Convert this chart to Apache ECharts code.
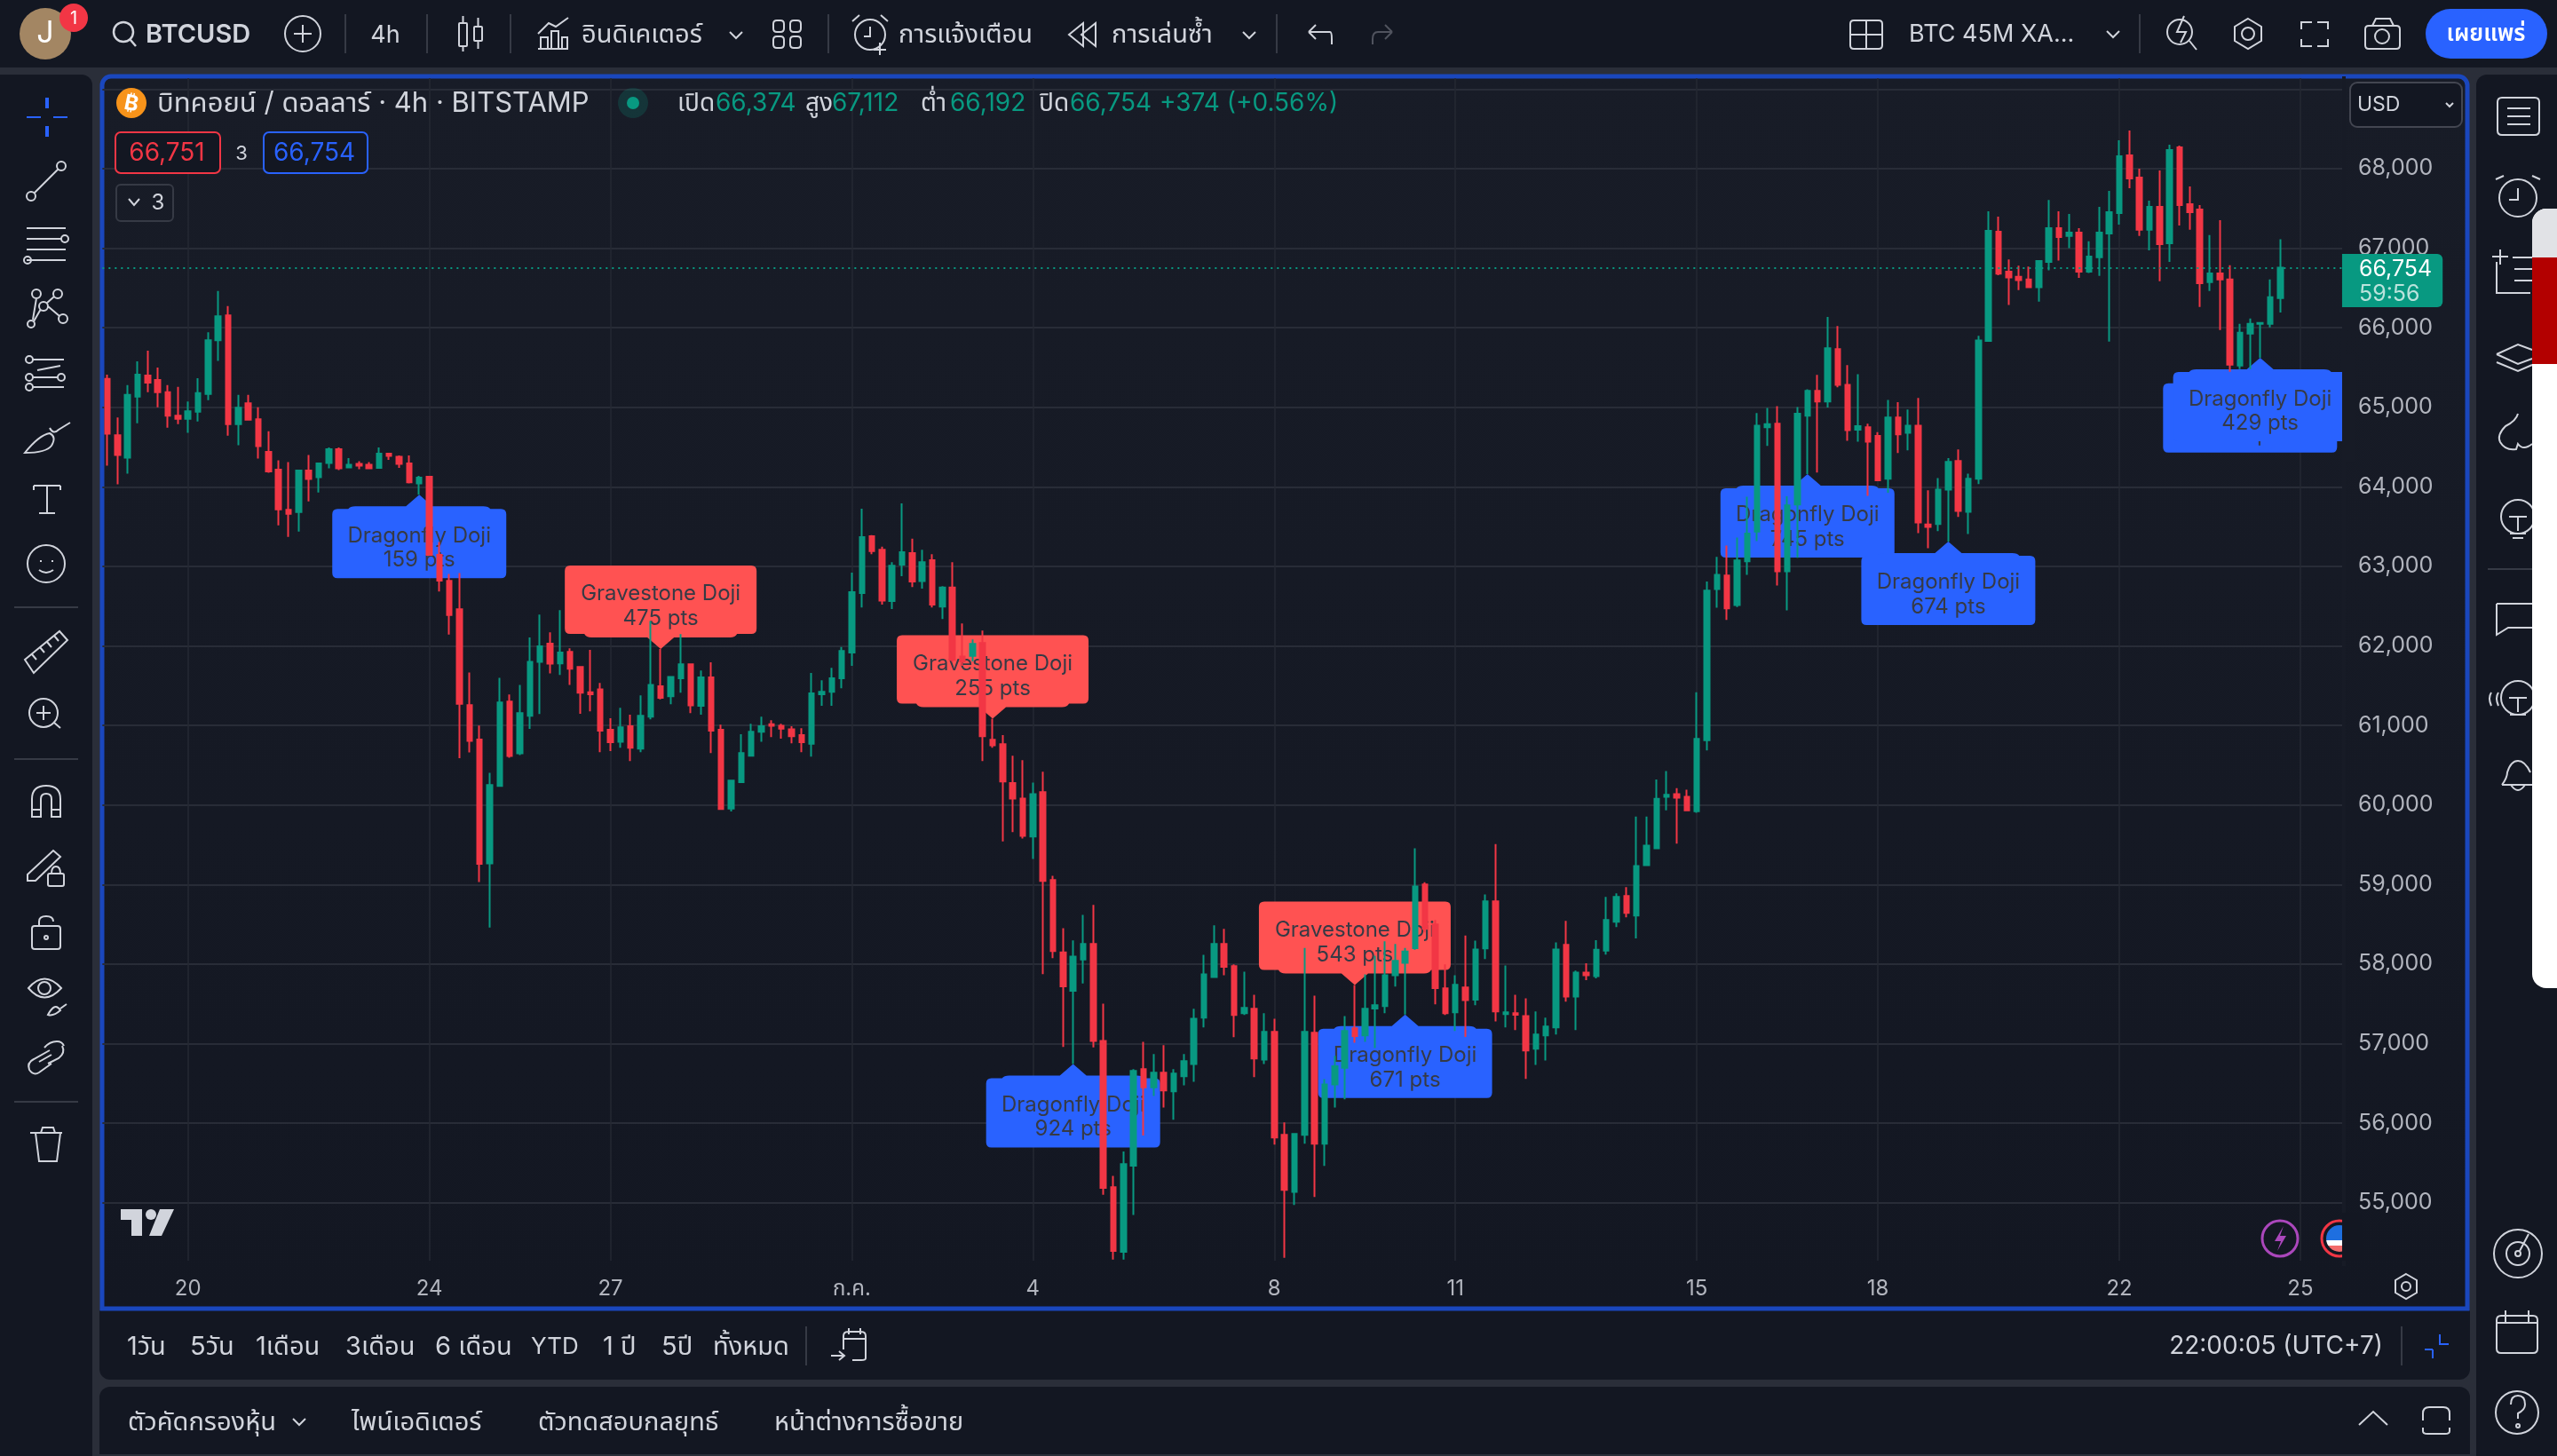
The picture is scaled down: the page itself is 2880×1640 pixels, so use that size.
<!DOCTYPE html>
<html><head><meta charset="utf-8">
<style>html,body{margin:0;padding:0;background:#2a2e39}#c{width:2880px;height:1640px}</style>
<script src="https://cdn.jsdelivr.net/npm/echarts@6/dist/echarts.min.js"></script>
</head><body><div id="c"></div>
<script>
const openValues=[65356,64650,64367,65133,65400,65344,65189,64894,64856,64944,65167,65844,66156,64789,65050,64850,64439,64217,63711,63683,64206,64122,64300,64472,64244,64289,64278,64239,64417,64378,64294,64044,64128,63145,62817,62461,61256,60822,59267,60239,61300,60650,61122,61800,62028,61780,61925,61737,61417,61454,60947,60796,60990,60708,61110,61492,61367,61592,61768,61248,61605,60947,59956,60288,60621,60922,61016,60997,60953,60878,60771,61392,61423,61592,61918,62665,63379,63210,62564,63022,63166,62815,63078,62495,62734,61868,61875,62038,60821,60765,60276,60081,59605,60163,59057,58148,57665,58057,58253,57035,55195,54384,55467,56681,56451,56636,56402,56590,56745,57326,57839,58253,57974,57382,57439,56801,57148,55855,55138,55855,57137,55742,56488,56696,57194,57103,57443,57473,57861,58016,58201,59000,58498,57695,57393,57707,57552,58197,58789,57371,57382,57348,56937,57103,57205,58242,57593,57895,57850,58170,58533,58855,58611,59244,59456,60103,60138,60103,59923,60816,62715,62884,62515,63064,63438,64749,64794,62939,63777,64893,65207,65073,65731,65282,64719,64749,64639,64101,64873,64679,64769,63527,63532,63966,64325,63687,64101,65835,67208,66706,66640,66606,66509,66829,67253,67153,67197,66706,66885,67186,67442,68167,67888,67231,67520,67063,68268,67554,67487,66573,66684,66606,65524,65926,66049,66049,66374];
const closeValues=[64667,64400,65156,65411,65311,65189,64894,64856,64950,65178,65844,66144,64789,64994,64844,64511,64194,63717,63661,64206,64100,64294,64472,64233,64278,64267,64233,64417,64389,64289,64056,64117,63145,62822,62389,61272,60806,59261,60250,61289,60617,61156,61800,61994,61778,61918,61712,61411,61392,60934,60790,60978,60721,61122,61511,61348,61611,61768,61254,61605,60934,59950,60307,60652,60922,60990,60997,60959,60865,60790,61404,61423,61592,61937,62677,63367,63191,62571,63009,63179,62809,63053,62520,62734,61824,61806,62025,60865,60752,60295,60081,59611,60138,59047,58163,57722,58095,58253,57035,55187,54396,55485,56658,56451,56636,56413,56624,56779,57314,57872,58253,57967,57360,57450,56813,57148,55821,55161,55866,57148,55742,56488,56715,57160,57096,57439,57484,57861,58042,58159,58977,58442,57699,57382,57740,57548,58185,58789,57405,57394,57363,56915,57115,57216,58185,57593,57895,57860,58180,58555,58844,58644,59233,59489,60078,60128,60093,59933,60831,62695,62894,62471,63074,63413,64769,64789,62939,63767,64918,65207,65073,65741,65282,64714,64764,64569,64081,64873,64659,64769,63552,63497,63966,64315,63697,64101,65840,67219,66680,66632,66599,66509,66840,67253,67141,67197,66706,66896,67197,67454,68156,67877,67231,67520,67052,68234,67543,67454,66561,66684,66606,65536,65937,66049,66060,66383,66754];
const lowValues=[64267,64033,64167,64800,65189,65000,64744,64789,64678,64822,65089,65583,64644,64522,64839,64356,64178,63517,63372,63439,63817,63928,64233,64211,64239,64222,64228,64239,64339,64239,64044,63900,63145,62683,62144,60589,60661,59033,58461,60228,60594,60628,60956,61144,61656,61636,61511,61147,61179,60664,60677,60721,60552,60664,61078,61329,61266,61411,61154,61135,60652,59943,59918,60288,60608,60796,60853,60834,60777,60664,60608,61248,61248,61467,61749,62483,63154,62520,62464,62878,62740,62721,62483,62339,61800,61750,61806,60552,60721,59542,59661,59580,59323,57874,58076,56960,56745,57756,56952,55101,54286,54286,54848,55847,56341,56198,56044,56477,56522,57205,57839,57861,57081,57360,56579,56745,55731,54309,54973,55742,55074,55463,56198,56300,57013,57024,56945,57382,57718,57367,58180,58400,57495,57360,57160,57084,57484,58065,57280,57205,57171,56556,56734,56790,57114,57529,57171,57800,57820,58120,58467,58589,58322,59244,59444,59933,59514,59923,59903,60686,62481,62326,62490,62894,63318,64514,62760,62446,63109,64161,64180,64998,65252,64579,64569,63886,64070,63926,64425,64460,63418,63228,63443,63313,63622,63408,64036,65830,66660,66286,66472,66506,66327,66721,66844,67000,66628,66688,66651,65826,67297,67755,67153,66974,66584,66829,67286,67231,66260,66461,65970,65446,65480,65480,65621,66004,66192];
const highValues=[65411,64872,65278,65578,65711,65500,65278,65256,65072,65367,65944,66461,66272,65156,65156,65000,64700,64333,64311,64217,64400,64306,64494,64494,64361,64322,64311,64494,64417,64394,64394,64139,64128,63306,62906,62917,61667,61000,60406,61600,61389,61511,62106,62394,62172,62451,61969,61743,61950,61536,61091,61222,61135,61379,62313,61962,61611,62150,61768,61692,61793,61009,60313,60890,61022,61110,61066,61022,60990,60965,61661,61567,61724,61987,62922,63724,63392,63248,63053,63793,63348,63210,63154,62752,63053,62282,62082,62194,61085,60878,60621,60564,60282,60420,59109,58453,58299,58619,58744,57503,55338,55644,56681,57024,56869,56982,56681,56869,57439,58118,58487,58442,57997,57906,57616,57382,57314,56010,55874,58204,57603,56553,56847,57348,57737,57872,58106,58287,58253,58204,59456,59030,58555,57997,57861,58359,58295,58876,59509,57982,57616,57571,57405,57326,58272,58544,57918,58010,58300,58844,58889,58967,59856,59856,60322,60427,60212,60192,61419,62810,63119,63263,63363,63876,64928,64993,65013,63881,65003,65227,65407,66135,66020,65531,65417,64794,64689,65093,65063,64973,65118,63956,64111,64360,64470,64166,65900,67464,67398,66859,66781,66770,66840,67606,67465,67431,67253,67086,67520,67721,68357,68480,68000,67599,67978,68301,68290,67777,67543,67164,67353,66785,66049,66115,66060,66606,67112];
const tickIndex=[8,32,50,74,92,116,134,158,176,200,218];
const tickLabels=['20','24','27','ก.ค.','4','8','11','15','18','22','25'];
const priceTicks=[55000,56000,57000,58000,59000,60000,61000,62000,63000,64000,65000,66000,67000,68000,69000];
const priceLabels=[55000,56000,57000,58000,59000,60000,61000,62000,63000,64000,65000,66000,67000,68000];
const dragonflyIndex=[31,96,129,169,183,213];
const dragonflyPts=['159 pts','924 pts','671 pts','745 pts','674 pts','476 pts'];
const frontIndex=[214];
const frontPts=['429 pts'];
const gravestoneIndex=[55,88,124];
const gravestonePts=['475 pts','255 pts','543 pts'];
const lastPrice=66754, countdown='59:56';
const categories=Array.from({length:223},(_,k)=>String(k));

const FONT="Inter, 'Noto Sans Thai', 'Noto Sans', 'DejaVu Sans', sans-serif";
const S='#d1d4dc', GREEN='#089981', RED='#f23645', BLUE='#2962ff', PANEL='#131722';
const candles=openValues.map((o,k)=>[o,closeValues[k],lowValues[k],highValues[k]]);
const fmt=v=>v.toLocaleString('en-US');

const g=[]; let shapeNo=0;
function R(x,y,w,h,fill,r,z,stroke,lw){g.push({type:'rect',silent:true,z:z==null?-1:z,shape:{x,y,width:w,height:h,r:r||0},style:{fill:fill||'none',stroke:stroke||null,lineWidth:lw||0}});}
function P(d,o){o=o||{};const name='icon'+(shapeNo++);
  echarts.graphic.registerShape(name,echarts.graphic.extendPath(d,{}));
  g.push({type:name,silent:true,z:o.z==null?50:o.z,style:{stroke:o.fill&&!o.stroke?null:(o.stroke||S),fill:o.fill||'none',lineWidth:o.lw||2}});}
function Ci(x,y,r){return `M${x-r} ${y}A${r} ${r} 0 1 1 ${x+r} ${y}A${r} ${r} 0 1 1 ${x-r} ${y}Z`;}
function Rr(x,y,w,h,r){return `M${x+r} ${y}L${x+w-r} ${y}Q${x+w} ${y} ${x+w} ${y+r}L${x+w} ${y+h-r}Q${x+w} ${y+h} ${x+w-r} ${y+h}L${x+r} ${y+h}Q${x} ${y+h} ${x} ${y+h-r}L${x} ${y+r}Q${x} ${y} ${x+r} ${y}Z`;}
function T(x,y,text,size,fill,align,weight,rot){g.push({type:'text',silent:true,z:60,x,y,rotation:rot||0,style:{text,fill:fill||S,fontSize:size||28,fontFamily:FONT,fontWeight:weight||400,textAlign:align||'left',textVerticalAlign:'middle'}});}

/* page panels */
R(0,0,2880,76,PANEL);
R(0,84,104,1556,PANEL,[0,12,0,0]);
R(2789,84,91,1556,PANEL,[12,0,0,0]);
R(112,1476,2670,78,PANEL,[0,0,12,12]);
R(112,1562,2670,76,PANEL,[12,12,0,0]);
g.push({type:'rect',silent:true,z:-1,shape:{x:115,y:86,width:2664,height:1388,r:[10,10,0,0]},style:{fill:{type:'linear',x:0,y:0,x2:0,y2:1,colorStops:[{offset:0,color:'#181c27'},{offset:1,color:'#131722'}]},stroke:'#1a47bd',lineWidth:5}});

/* masks for the price-scale edge */
R(2638,400,14,120,'#171b26',0,2.5);
R(2638,1366,22,54,'#131722',0,52);
R(2638,86,4,1340,'#171b26',0,2.5);

/* white side sheet */
g.push({type:'rect',silent:true,z:70,shape:{x:2852,y:235,width:28,height:878,r:[16,0,0,16]},style:{fill:'#ffffff'}});
g.push({type:'rect',silent:true,z:71,shape:{x:2852,y:235,width:28,height:56,r:[16,0,0,0]},style:{fill:'#e1e2e6'}});
R(2852,290,28,120,'#b30000',0,71);

/* top bar */
g.push({type:'circle',silent:true,z:50,shape:{cx:51,cy:38,r:29},style:{fill:'#a38663'}});
T(51,38,'J',34,'#fff','center');
g.push({type:'circle',silent:true,z:51,shape:{cx:83,cy:20,r:16},style:{fill:RED}});
T(83,21,'1',20,'#fff','center');
P(Ci(139,36,11)+'M147 45L153 52',{lw:2.5});
T(164,39,'BTCUSD',29,S,'left',600);
P(Ci(341,38,20)+'M341 28L341 48M331 38L351 38');
P('M389 16L389 60M481 16L481 60M575 16L575 60M933 16L933 60M1438 16L1438 60M2410 16L2410 60',{stroke:'#363a45'});
T(434,40,'4h',27,S,'center');
P(Rr(517,26,9,26,1)+'M521.5 18L521.5 26M521.5 52L521.5 58'+Rr(534,30,9,16,1)+'M538.5 20L538.5 30M538.5 46L538.5 55');
P('M606 55L640 55M609 55L609 42L617 42L617 55M621 55L621 35L629 35L629 55M633 55L633 42L639 42L639 55M606 38L618 26L626 30L640 20');
T(655,39,'อินดิเคเตอร์',29,S);
P('M822 36L829 43L836 36');
P(Rr(871,23,12,13,4)+Rr(890,23,12,13,4)+Rr(871,41,12,13,4)+Rr(890,41,12,13,4));
P(Ci(980,39,17)+'M960 24L968 17M1000 24L992 17M980 30L980 41L973 41M984 56L998 56M991 48L991 62',{});
T(1012,39,'การแจ้งเตือน',29,S);
P('M1220 26L1204 39L1220 52ZM1234 26L1218 39L1234 52Z');
T(1252,39,'การเล่นซ้ำ',29,S);
P('M1400 36L1407 43L1414 36');
P('M1474 36L1482 28M1474 36L1482 44M1474 36L1498 36Q1500 36 1500 44L1500 50',{});
P('M1568 36L1560 28M1568 36L1560 44M1568 36L1552 36Q1546 36 1546 44L1546 50',{stroke:'#50535e'});
P(Rr(2084,23,36,32,4)+'M2084 39L2120 39M2102 23L2102 55');
T(2150,39,'BTC 45M XA...',27,S);
P('M2373 35L2380 42L2387 35');
P(Ci(2455,36,14)+'M2466 46L2474 56M2460 18L2452 36L2462 36L2456 48',{});
P('M2532 21L2547 30L2547 46L2532 55L2517 46L2517 30Z'+Ci(2532,38,7));
P('M2592 33L2592 25L2604 25M2610 25L2622 25L2622 33M2622 44L2622 52L2610 52M2604 52L2592 52L2592 44');
P(Rr(2664,29,39,26,4)+Ci(2683,41,8)+'M2672 29L2676 21L2692 21L2696 29');
R(2732,10,137,56,BLUE,28,50);
T(2800,38,'เผยแพร่',26,'#fff','center',600);

/* chart legend */
g.push({type:'circle',silent:true,z:50,shape:{cx:148,cy:116,r:17},style:{fill:'#f7931a'}});
T(148,117,'₿',24,'#fff','center',700,-0.2);
T(177,117,'บิทคอยน์ / ดอลลาร์ · 4h · BITSTAMP',31,S);
g.push({type:'circle',silent:true,z:50,shape:{cx:713,cy:116,r:17},style:{fill:'rgba(8,153,129,0.2)'}});
g.push({type:'circle',silent:true,z:51,shape:{cx:713,cy:116,r:7},style:{fill:GREEN}});
T(763,117,'เปิด'); T(806,117,'66,374',28,GREEN);
T(907,117,'สูง'); T(937,117,'67,112',28,GREEN);
T(1037,117,'ต่ำ'); T(1070,117,'66,192',28,GREEN);
T(1170,117,'ปิด'); T(1205,117,'66,754',28,GREEN);
T(1306,117,'+374 (+0.56%)',28,GREEN);
R(130,149,118,46,'#131722',6,50,RED,2); T(188,173,'66,751',28,RED,'center');
T(272,173,'3',22,S,'center');
R(297,149,117,46,'#131722',6,50,BLUE,2); T(354,173,'66,754',28,BLUE,'center');
R(131,208,64,41,'none',5,50,'#363a45',2);
P('M145 224L151 231L157 224'); T(178,229,'3',24,S,'center');
R(2647,93,126,50,'#131722',8,50,'#434651',2);
T(2655,118,'USD',23,S); P('M2755 116L2759 120L2763 116');

/* chart corner items */
P('M136 1362L160 1362L160 1392L148 1392L148 1374L136 1374Z',{fill:S,z:50});
g.push({type:'circle',silent:true,z:50,shape:{cx:170,cy:1368,r:6},style:{fill:S}});
P('M180 1362L196 1362L182 1392L168 1392Z',{fill:S,z:50});
P(Ci(2568,1395,20),{stroke:'#ab47bc',lw:3});
P('M2572 1381L2562 1398L2569 1398L2565 1409L2575 1392L2568 1392Z',{fill:'#ab47bc',z:50});
P(Ci(2635,1395,20),{stroke:RED,lw:3,z:50});
g.push({type:'circle',silent:true,z:50,shape:{cx:2635,cy:1395,r:15},style:{fill:{type:'linear',x:0,y:0,x2:0,y2:1,colorStops:[{offset:0,color:'#1e6fe0'},{offset:0.58,color:'#1e6fe0'},{offset:0.58,color:'#fff'},{offset:0.75,color:'#fff'},{offset:0.75,color:'#f26a6a'},{offset:1,color:'#f26a6a'}]}}});
P('M2710 1435L2722 1442L2722 1456L2710 1463L2698 1456L2698 1442Z'+Ci(2710,1449,5));

/* range bar */
[[143,'1วัน'],[214,'5วัน'],[288,'1เดือน'],[389,'3เดือน'],[490,'6 เดือน'],[598,'YTD'],[679,'1 ปี'],[745,'5ปี'],[803,'ทั้งหมด']].forEach(a=>T(a[0],1517,a[1],a[1]==='YTD'?26:29));
P('M908 1494L908 1538',{stroke:'#363a45'});
P('M950 1520L950 1505Q950 1500 955 1500L970 1500Q975 1500 975 1505L975 1530Q975 1532 970 1532L960 1532M950 1508L975 1508M956 1496L956 1503M969 1496L969 1503M936 1527L950 1527M945 1522L951 1527L945 1532');
T(2684,1517,'22:00:05 (UTC+7)',28,S,'right');
P('M2705 1494L2705 1538',{stroke:'#363a45'});
P('M2748 1503L2748 1514L2758 1514M2740 1520L2731 1520M2740 1520L2740 1530',{stroke:BLUE});
[[144,'ตัวคัดกรองหุ้น'],[396,'ไพน์เอดิเตอร์'],[606,'ตัวทดสอบกลยุทธ์'],[872,'หน้าต่างการซื้อขาย']].forEach(a=>T(a[0],1602,a[1],29));
P('M330 1598L337 1605L344 1598');
P('M2657 1605L2673 1590L2689 1605');
P('M2729 1600L2729 1592Q2729 1585 2736 1585L2752 1585Q2759 1585 2759 1592L2759 1600M2729 1608L2729 1612Q2729 1615 2734 1615L2754 1615Q2759 1615 2759 1612L2759 1608');

/* left tools */
P('M30 132L46 132M60 132L76 132',{stroke:BLUE});
P('M53 110L53 122M53 142L53 154',{stroke:BLUE,lw:4});
P(Ci(35,221,5)+Ci(69,187,5)+'M39 217L65 191');
P('M30 257L74 257M30 269L70 269M30 281L74 281M30 293L74 293'+Ci(73,269,4)+Ci(31,293,4));
P(Ci(41,331,5)+Ci(65,331,5)+Ci(49,345,5)+Ci(71,359,5)+Ci(35,365,4)+'M38 362L46 348M41 336L37 360M54 345L67 356M52 342L61 334');
P(Ci(33,405,4)+Ci(33,425,4)+Ci(33,436,4)+Ci(69,425,4)+'M37 405L72 405M37 425L65 425M37 436L72 436M42 417L68 412',{});
P('M28 510Q44 490 56 488Q64 492 58 502Q52 510 28 510ZM56 482Q60 490 66 484L79 476');
P('M38 547L68 547M38 547L38 552M68 547L68 552M53 547L53 578M44 578L62 578');
P(Ci(52,635,21)+'M46 631L46 633M59 631L59 633M44 642Q52 648 60 642');
P('M16 684L88 684M16 855L88 855M16 1241L88 1241',{stroke:'#363a45'});
P('M28 743L67 711L76 721L38 758ZM36 737L41 743M45 729L50 735M53 723L58 729M61 716L66 722');
P(Ci(49,803,16)+'M41 803L57 803M49 795L49 811M61 814L68 820');
P('M36 920L36 900Q36 885 52 885Q68 885 68 900L68 920L58 920L58 900Q58 894 52 894Q46 894 46 900L46 920ZM36 912L46 912M58 912L68 912');
P('M31 985L60 958L68 965L40 992L31 992Z'+Rr(54,984,18,14,2)+'M58 984Q58 976 63 976Q68 976 68 984');
P(Rr(36,1043,32,26,3)+'M44 1043L44 1038Q44 1032 52 1032Q60 1032 60 1038'+Ci(52,1056,2));
P('M32 1113Q50 1092 69 1113Q50 1134 32 1113Z'+Ci(50,1113,7)+'M54 1143Q62 1128 68 1138Q60 1145 54 1143ZM68 1136L75 1131');
P('M33 1205Q30 1197 38 1193L56 1183M58 1198L44 1208Q38 1212 33 1205M44 1196L58 1188M70 1178Q74 1186 66 1192L54 1198M50 1180Q56 1173 64 1173Q70 1173 72 1178');
P('M34 1276L70 1276M40 1276L44 1308L64 1308L68 1276M46 1276L48 1270L60 1270L62 1276');

/* right tools */
P(Rr(2813,110,47,42,5)+'M2824 122L2850 122M2824 131L2850 131M2824 140L2850 140');
P(Ci(2836,223,21)+'M2811 202L2820 198M2861 202L2852 198M2836 212L2836 225L2826 225');
P('M2807 289L2825 289M2816 281L2816 298M2812 295L2812 330L2850 330M2830 290L2852 290M2832 303L2852 303M2832 316L2852 316');
P('M2812 399L2836 388L2852 394M2812 399L2836 410L2852 404M2812 408L2836 418L2852 411');
P('M2836 466Q2834 474 2822 480Q2812 490 2816 498Q2822 508 2834 506L2836 500Q2842 508 2852 500');
P(Ci(2836,582,19)+'M2826 582L2846 582M2836 582L2836 598M2827 601L2845 601M2830 606L2842 606');
P('M2802 641L2852 641',{stroke:'#363a45'});
P('M2812 680L2852 680M2812 680L2812 715L2825 707L2852 707');
P('M2806 780Q2802 786 2806 795M2814 780Q2810 786 2814 795'+Ci(2836,786,19)+'M2826 786L2846 786M2836 786L2836 802M2827 805L2845 805');
P('M2818 884L2852 884M2818 884Q2824 876 2824 870Q2828 857 2836 857Q2844 857 2850 870M2828 884Q2836 896 2844 884');
P(Ci(2836,1412,27)+Ci(2836,1412,13)+Ci(2836,1412,3)+'M2838 1409L2848 1390');
P(Rr(2812,1482,46,42,5)+'M2812 1490L2858 1490M2822 1476L2822 1490M2848 1476L2848 1490');
P(Ci(2835,1591,24)+'M2828 1582Q2828 1572 2836 1572Q2844 1572 2844 1582Q2844 1588 2836 1592L2836 1598'+Ci(2836,1606,2));

function markerData(idx,pick){return idx.map(k=>[k,pick[k]]);}
const markerLabel=(name,list,off)=>({show:true,position:'inside',offset:[0,off],color:'#363a45',fontSize:24,fontFamily:FONT,lineHeight:27.5,align:'center',
  formatter:p=>name+'\n'+list[p.dataIndex]});
const DRAGON='path://M98 0L113 13L170 13Q176 13 178 16L190 16Q196 16 196 22L196 88Q196 94 190 94L6 94Q0 94 0 88L0 22Q0 16 6 16L18 16Q20 13 26 13L83 13Z';

const option={
  backgroundColor:'#2a2e39',animation:false,
  grid:{left:115.34,top:88,width:2526.6,height:1332,containLabel:false},
  xAxis:{type:'category',data:categories,boundaryGap:true,
    axisLine:{show:false},axisTick:{show:false},
    axisLabel:{interval:(k)=>tickIndex.includes(k),formatter:(v,k)=>tickLabels[tickIndex.indexOf(+v)]||'',color:'#b2b5be',fontSize:24,fontFamily:FONT,margin:20,hideOverlap:false},
    splitLine:{show:true,alignWithLabel:true,interval:(k)=>tickIndex.includes(k),lineStyle:{color:'#252933',width:1.5}}},
  yAxis:{type:'value',position:'right',min:54272,max:69138,scale:true,
    axisLine:{show:false},
    axisTick:{show:false,customValues:priceTicks},
    axisLabel:{customValues:priceLabels,formatter:v=>fmt(v),color:'#b2b5be',fontSize:25,fontFamily:FONT,margin:14,align:'left'},
    splitLine:{show:true,lineStyle:{color:'#282c37',width:2}}},
  graphic:{elements:g},
  series:[
   {name:'Dragonfly Doji',type:'scatter',z:1,clip:false,silent:true,
    data:markerData(dragonflyIndex,lowValues),
    symbol:DRAGON,symbolSize:[196,94],symbolKeepAspect:false,symbolOffset:[0,47],
    itemStyle:{color:BLUE,opacity:1},
    label:markerLabel('Dragonfly Doji',dragonflyPts,13)},
   {name:'Gravestone Doji',type:'scatter',z:1,clip:false,silent:true,
    data:markerData(gravestoneIndex,highValues),
    symbol:'path://M108 94L93 81L30 81Q24 81 22 77L6 77Q0 77 0 71L0 6Q0 0 6 0L210 0Q216 0 216 6L216 71Q216 77 210 77L194 77Q192 81 186 81L123 81Z',
    symbolSize:[216,94],symbolKeepAspect:false,symbolOffset:[0,-47],
    itemStyle:{color:'#ff5252',opacity:1},
    label:markerLabel('Gravestone Doji',gravestonePts,-1)},
   {name:'Dragonfly Doji front',type:'scatter',z:2,clip:false,silent:true,
    data:markerData(frontIndex,lowValues),
    symbol:DRAGON,symbolSize:[196,94],symbolKeepAspect:false,symbolOffset:[0,47],
    itemStyle:{color:BLUE,opacity:1},
    label:markerLabel('Dragonfly Doji',frontPts,13)},
   {name:'BTCUSD',type:'candlestick',z:3,silent:true,data:candles,barWidth:6,
    itemStyle:{color:GREEN,color0:RED,borderColor:GREEN,borderColor0:RED,borderColorDoji:GREEN,borderWidth:2},
    markLine:{silent:true,symbol:'none',animation:false,precision:0,
      lineStyle:{color:GREEN,type:[2,5],width:2},
      label:{show:true,position:'end',distance:-4,offset:[0,14.5],
        formatter:'{a|'+fmt(lastPrice)+'}\n{b|'+countdown+'}',
        backgroundColor:GREEN,borderRadius:[0,6,6,0],padding:[3,12,1,19],
        rich:{a:{color:'#fff',fontSize:25,fontFamily:FONT,lineHeight:28,align:'left'},b:{color:'rgba(255,255,255,0.72)',fontSize:25,fontFamily:FONT,lineHeight:28,align:'left'}}},
      data:[{yAxis:lastPrice}]}}
  ]
};
const chart=echarts.init(document.getElementById('c'),null,{renderer:'canvas',width:2880,height:1640,devicePixelRatio:1});
chart.setOption(option);
</script></body></html>
